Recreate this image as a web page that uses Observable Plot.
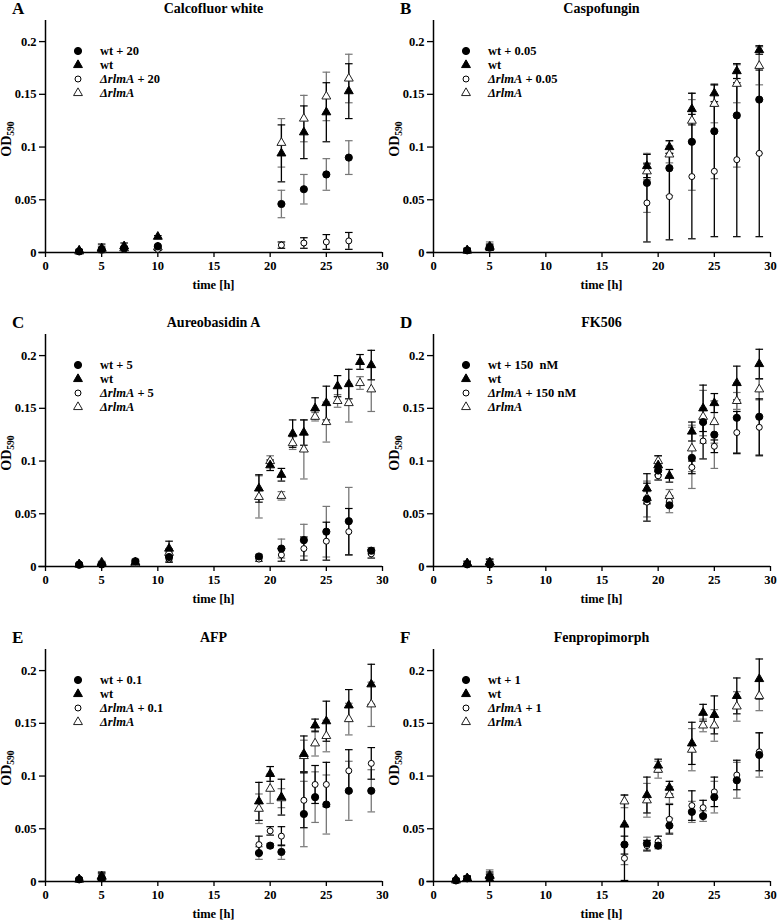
<!DOCTYPE html>
<html><head><meta charset="utf-8">
<script src="https://cdn.jsdelivr.net/npm/d3@7"></script>
<script src="https://cdn.jsdelivr.net/npm/@observablehq/plot@0.6"></script>
<style>
body{margin:0;background:#fff;}
#root{position:relative;width:778px;height:923px;font-family:"Liberation Serif","Times New Roman",serif;font-weight:bold;color:#000;overflow:hidden;background:#fff}
.panel{position:absolute;width:389px;height:314px;}
.panel svg.plot{position:absolute;left:0;top:0;overflow:visible}
.letter{position:absolute;left:12px;top:0px;font-size:17px;line-height:18px}
.title{position:absolute;left:45px;width:337px;text-align:center;top:1px;font-size:14px;line-height:16px}
.ylab{position:absolute;left:-33px;top:130px;width:80px;text-align:center;font-size:14px;transform:rotate(-90deg);line-height:18px}
.ylab sub{font-size:9.5px;vertical-align:-3px;line-height:0}
.xlab{position:absolute;left:45px;width:337px;text-align:center;top:278px;font-size:12.5px;}
.legend{position:absolute;left:71px;top:44px;font-size:12.5px;}
.lrow{position:relative;height:14px;line-height:14px;white-space:nowrap}
.lrow svg{position:absolute;left:0;top:1px}
.lrow span{position:absolute;left:29px;top:0}
</style>
</head><body>
<div id="root"></div>
<script>
// ---------- data (OD590 means and error half-widths) ----------
const xTicks = [0, 5, 10, 15, 20, 25, 30];
const yTicks = [0, 0.05, 0.1, 0.15, 0.2];
const titles = ["Calcofluor white", "Caspofungin", "Aureobasidin A", "FK506", "AFP", "Fenpropimorph"];
const letters = ["A", "B", "C", "D", "E", "F"];
const dosesWt = ["20", "0.05", "5", "150\u00a0\u00a0nM", "0.1", "1"];
const dosesRlm = ["20", "0.05", "5", "150 nM", "0.1", "1"];

// A: Calcofluor white
const A_t     = [3, 5, 7, 10, 21, 23, 25, 27];
const A_wtX   = [0.001, 0.003, 0.004, 0.006, 0.046, 0.060, 0.074, 0.090];
const A_wtX_e = [0.001, 0.002, 0.001, 0.001, 0.013, 0.014, 0.015, 0.016];
const A_wt    = [0.002, 0.004, 0.006, 0.015, 0.094, 0.114, 0.133, 0.153];
const A_wt_e  = [0.001, 0.004, 0.003, 0.001, 0.027, 0.025, 0.028, 0.026];
const A_rlX   = [0.001, 0.002, 0.003, 0.003, 0.007, 0.009, 0.010, 0.011];
const A_rlX_e = [0.001, 0.001, 0.001, 0.001, 0.003, 0.005, 0.007, 0.008];
const A_rl    = [0.001, 0.003, 0.004, 0.005, 0.104, 0.127, 0.148, 0.165];
const A_rl_e  = [0.001, 0.003, 0.002, 0.001, 0.023, 0.022, 0.023, 0.023];

// B: Caspofungin
const B_t     = [3, 5, 19, 21, 23, 25, 27, 29];
const B_wtX   = [0.002, 0.005, 0.066, 0.080, 0.105, 0.115, 0.130, 0.145];
const B_wtX_e = [0.001, 0.002, 0.028, 0.026, 0.046, 0.045, 0.049, 0.051];
const B_wt    = [0.002, 0.005, 0.082, 0.100, 0.136, 0.151, 0.172, 0.192];
const B_wt_e  = [0.002, 0.003, 0.011, 0.006, 0.015, 0.008, 0.007, 0.004];
const B_rlX   = [0.002, 0.004, 0.047, 0.053, 0.072, 0.077, 0.088, 0.094];
const B_rlX_e = [0.001, 0.002, 0.037, 0.041, 0.059, 0.062, 0.073, 0.079];
const B_rl    = [0.002, 0.006, 0.077, 0.093, 0.125, 0.141, 0.160, 0.177];
const B_rl_e  = [0.002, 0.004, 0.008, 0.008, 0.020, 0.018, 0.018, 0.018];

// C: Aureobasidin A
const C_t     = [3, 5, 8, 11, 19, 20, 21, 22, 23, 24, 25, 26, 27, 28, 29];
const C_wtX   = [0.002, 0.002, 0.005, 0.009, 0.0095, null, 0.017, null, 0.025, null, 0.033, null, 0.043, null, 0.015];
const C_wtX_e = [0.001, 0.001, 0.002, 0.004, 0.002, null, 0.009, null, 0.015, null, 0.024, null, 0.032, null, 0.003];
const C_wt    = [0.002, 0.003, 0.004, 0.017, 0.074, 0.096, 0.087, 0.126, 0.127, 0.150, 0.155, 0.171, 0.173, 0.194, 0.191];
const C_wt_e  = [0.001, 0.001, 0.002, 0.007, 0.013, 0.005, 0.006, 0.013, 0.012, 0.010, 0.016, 0.010, 0.014, 0.007, 0.014];
const C_rlX   = [0.001, 0.002, 0.003, 0.007, 0.007, null, 0.011, null, 0.017, null, 0.024, null, 0.033, null, 0.012];
const C_rlX_e = [0.001, 0.001, 0.001, 0.003, 0.002, null, 0.006, null, 0.011, null, 0.018, null, 0.022, null, 0.004];
const C_rl    = [0.002, 0.004, 0.003, 0.013, 0.066, 0.100, 0.067, 0.117, 0.111, 0.142, 0.137, 0.157, 0.155, 0.174, 0.168];
const C_rl_e  = [0.001, 0.001, 0.001, 0.004, 0.020, 0.005, 0.004, 0.006, 0.028, 0.004, 0.019, 0.006, 0.018, 0.006, 0.021];

// D: FK506
const D_t     = [3, 5, 19, 20, 21, 23, 24, 25, 27, 29];
const D_wtX   = [0.002, 0.002, 0.064, 0.091, 0.058, 0.103, 0.137, 0.125, 0.141, 0.142];
const D_wtX_e = [0.001, 0.002, 0.017, 0.005, 0.007, 0.029, 0.013, 0.032, 0.033, 0.036];
const D_wt    = [0.003, 0.004, 0.074, 0.096, 0.086, 0.128, 0.150, 0.155, 0.174, 0.192];
const D_wt_e  = [0.002, 0.003, 0.014, 0.009, 0.006, 0.009, 0.022, 0.009, 0.016, 0.014];
const D_rlX   = [0.002, 0.003, 0.061, 0.086, 0.062, 0.094, 0.119, 0.114, 0.127, 0.132];
const D_rlX_e = [0.001, 0.002, 0.018, 0.004, 0.005, 0.006, 0.017, 0.006, 0.020, 0.027];
const D_rl    = [0.003, 0.004, 0.065, 0.100, 0.067, 0.112, 0.142, 0.137, 0.157, 0.168];
const D_rl_e  = [0.002, 0.003, 0.006, 0.005, 0.006, 0.022, 0.025, 0.020, 0.008, 0.010];

// E: AFP
const E_t     = [3, 5, 19, 20, 21, 23, 24, 25, 27, 29];
const E_wtX   = [0.002, 0.003, 0.027, 0.034, 0.028, 0.064, 0.080, 0.073, 0.086, 0.086];
const E_wtX_e = [0.001, 0.002, 0.006, 0.002, 0.007, 0.031, 0.024, 0.028, 0.028, 0.020];
const E_wt    = [0.002, 0.005, 0.076, 0.102, 0.080, 0.121, 0.148, 0.152, 0.167, 0.187];
const E_wt_e  = [0.001, 0.004, 0.018, 0.007, 0.017, 0.017, 0.006, 0.019, 0.015, 0.019];
const E_rlX   = [0.002, 0.005, 0.035, 0.048, 0.043, 0.077, 0.092, 0.092, 0.105, 0.112];
const E_rlX_e = [0.001, 0.003, 0.008, 0.004, 0.009, 0.026, 0.018, 0.021, 0.020, 0.015];
const E_rl    = [0.002, 0.004, 0.069, 0.088, 0.079, 0.119, 0.131, 0.138, 0.154, 0.168];
const E_rl_e  = [0.001, 0.003, 0.014, 0.014, 0.009, 0.015, 0.012, 0.015, 0.015, 0.021];

// F: Fenpropimorph
const F_t     = [2, 3, 5, 17, 19, 20, 21, 23, 24, 25, 27, 29];
const F_wtX   = [0.001, 0.003, 0.004, 0.035, 0.036, 0.034, 0.053, 0.066, 0.062, 0.080, 0.096, 0.120];
const F_wtX_e = [0.001, 0.002, 0.003, 0.019, 0.006, 0.003, 0.007, 0.010, 0.005, 0.015, 0.017, 0.021];
const F_wt    = [0.002, 0.003, 0.005, 0.054, 0.082, 0.110, 0.089, 0.131, 0.160, 0.158, 0.176, 0.192];
const F_wt_e  = [0.001, 0.002, 0.004, 0.028, 0.017, 0.006, 0.006, 0.020, 0.008, 0.018, 0.017, 0.019];
const F_rlX   = [0.001, 0.003, 0.004, 0.022, 0.034, 0.038, 0.059, 0.072, 0.070, 0.085, 0.101, 0.123];
const F_rlX_e = [0.001, 0.002, 0.003, 0.021, 0.005, 0.005, 0.014, 0.014, 0.007, 0.014, 0.014, 0.018];
const F_rl    = [0.001, 0.003, 0.006, 0.076, 0.077, 0.106, 0.082, 0.125, 0.148, 0.148, 0.166, 0.176];
const F_rl_e  = [0.001, 0.002, 0.005, 0.006, 0.016, 0.008, 0.008, 0.020, 0.006, 0.015, 0.014, 0.014];

// ---------- assembly ----------
const panelData = [
  [A_t, A_wtX, A_wtX_e, A_wt, A_wt_e, A_rlX, A_rlX_e, A_rl, A_rl_e],
  [B_t, B_wtX, B_wtX_e, B_wt, B_wt_e, B_rlX, B_rlX_e, B_rl, B_rl_e],
  [C_t, C_wtX, C_wtX_e, C_wt, C_wt_e, C_rlX, C_rlX_e, C_rl, C_rl_e],
  [D_t, D_wtX, D_wtX_e, D_wt, D_wt_e, D_rlX, D_rlX_e, D_rl, D_rl_e],
  [E_t, E_wtX, E_wtX_e, E_wt, E_wt_e, E_rlX, E_rlX_e, E_rl, E_rl_e],
  [F_t, F_wtX, F_wtX_e, F_wt, F_wt_e, F_rlX, F_rlX_e, F_rl, F_rl_e]
];

const GREY = "#777777";
const STY = {
  wtX: {symbol: "circle",   r: 3.6, fill: "#000", stroke: "#000", bar: GREY},
  wt:  {symbol: "triangle", r: 3.3, fill: "#000", stroke: "#000", bar: "#000"},
  rlX: {symbol: "circle",   r: 3.0, fill: "#fff", stroke: "#000", bar: "#000"},
  rl:  {symbol: "triangle", r: 3.3, fill: "#fff", stroke: "#222", bar: GREY}
};
const capSymbol = {draw(ctx) { ctx.moveTo(-3.8, 0); ctx.lineTo(3.8, 0); }};

function rows(t, ys, es) {
  return t.map((tt, i) => ({t: tt, y: ys[i], e: es[i]})).filter(d => d.y != null);
}

function barMarks(data, color) {
  return [
    Plot.ruleX(data, {x: "t", y1: d => d.y - d.e, y2: d => d.y + d.e, stroke: color, strokeWidth: 1.3}),
    Plot.dot(data, {x: "t", y: d => d.y + d.e, symbol: capSymbol, r: 3, fill: "none", stroke: color, strokeWidth: 1.2}),
    Plot.dot(data, {x: "t", y: d => d.y - d.e, symbol: capSymbol, r: 3, fill: "none", stroke: color, strokeWidth: 1.2})
  ];
}
function dotMark(data, s) {
  return Plot.dot(data, {x: "t", y: "y", symbol: s.symbol, r: s.r, fill: s.fill, stroke: s.stroke, strokeWidth: 1});
}

function legendSymbol(s) {
  const size = s.r * s.r * Math.PI;
  const type = s.symbol === "circle" ? d3.symbolCircle : d3.symbolTriangle;
  const p = d3.symbol().type(type).size(size)();
  return `<svg width="14" height="12" viewBox="-7 -6 14 12"><path d="${p}" fill="${s.fill}" stroke="${s.stroke}" stroke-width="1"/></svg>`;
}

const root = document.getElementById("root");
const lefts = [0, 388];
const tops = [0, 314, 629];

panelData.forEach((pd, i) => {
  const [t, wtX, wtXe, wt, wte, rlX, rlXe, rl, rle] = pd;
  const dWtX = rows(t, wtX, wtXe), dWt = rows(t, wt, wte), dRlX = rows(t, rlX, rlXe), dRl = rows(t, rl, rle);
  const plot = Plot.plot({
    width: 389, height: 300,
    marginLeft: 45, marginRight: 7, marginTop: 20, marginBottom: 48,
    x: {domain: [0, 30]},
    y: {domain: [0, 0.22]},
    style: {fontFamily: "'Liberation Serif','Times New Roman',serif", fontWeight: "bold", fontSize: "12.5px", background: "transparent", color: "#000"},
    marks: [
      Plot.axisX({ticks: xTicks, tickSize: 5, tickPadding: 4, label: null, strokeWidth: 1.3}),
      Plot.axisY({ticks: yTicks, tickSize: 6, tickPadding: 3, label: null, tickFormat: d => String(d), strokeWidth: 1.3}),
      Plot.ruleY([0], {x1: -0.6, x2: 30, stroke: "#000", strokeWidth: 1.5}),
      Plot.ruleX([0], {y1: 0, y2: 0.22, stroke: "#000", strokeWidth: 1.5}),
      ...barMarks(dRl, STY.rl.bar),
      ...barMarks(dWtX, STY.wtX.bar),
      ...barMarks(dWt, STY.wt.bar),
      ...barMarks(dRlX, STY.rlX.bar),
      dotMark(dRlX, STY.rlX),
      dotMark(dRl, STY.rl),
      dotMark(dWtX, STY.wtX),
      dotMark(dWt, STY.wt)
    ]
  });
  plot.classList.add("plot");
  const panel = document.createElement("div");
  panel.className = "panel";
  panel.style.left = lefts[i % 2] + "px";
  panel.style.top = tops[Math.floor(i / 2)] + "px";
  panel.appendChild(plot);
  panel.insertAdjacentHTML("beforeend", `
    <div class="letter">${letters[i]}</div>
    <div class="title">${titles[i]}</div>
    <div class="ylab">OD<sub>590</sub></div>
    <div class="xlab">time [h]</div>
    <div class="legend">
      <div class="lrow">${legendSymbol(STY.wtX)}<span>wt + ${dosesWt[i]}</span></div>
      <div class="lrow">${legendSymbol(STY.wt)}<span>wt</span></div>
      <div class="lrow">${legendSymbol(STY.rlX)}<span><i>ΔrlmA</i> + ${dosesRlm[i]}</span></div>
      <div class="lrow">${legendSymbol(STY.rl)}<span><i>ΔrlmA</i></span></div>
    </div>`);
  root.appendChild(panel);
});
</script>
</body></html>
